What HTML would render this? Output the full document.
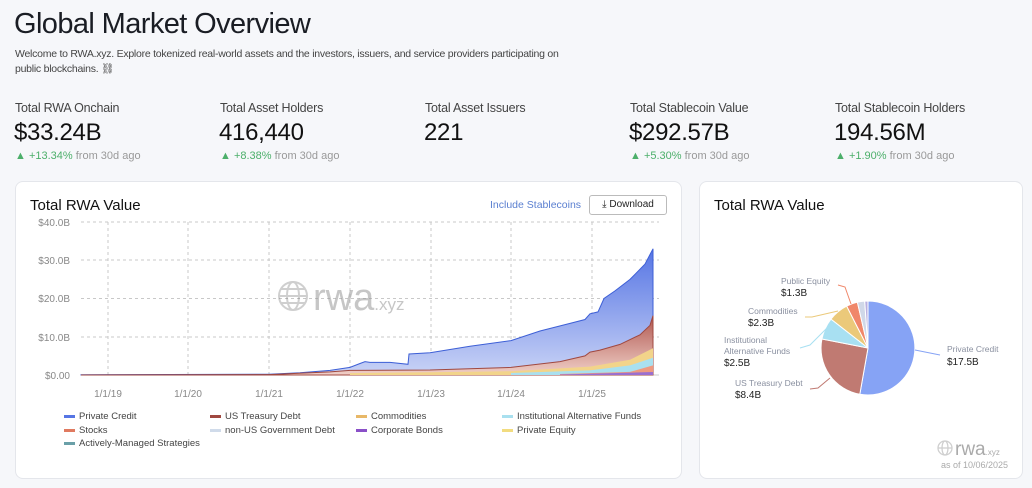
<!DOCTYPE html>
<html><head><meta charset="utf-8"><style>
*{margin:0;padding:0;box-sizing:border-box}
body{width:1032px;height:488px;background:#f6f7fa;font-family:"Liberation Sans",sans-serif;color:#111;position:relative;overflow:hidden}
.a{position:absolute;white-space:nowrap}
.card{position:absolute;background:#fff;border:1px solid #e4e6eb;border-radius:8px}
.lab{font-size:12.5px;color:#444;letter-spacing:-0.2px}
.val{font-size:24px;color:#111;letter-spacing:-0.3px}
.chg{font-size:11px;color:#999}
.chg b{color:#4caf6a;font-weight:normal}
.lg{font-size:9.5px;color:#444;position:absolute}
.lg i{display:inline-block;width:11px;height:3px;margin-right:4px;vertical-align:middle}
</style></head><body>
<div class="a" style="left:14px;top:8px;font-size:29px;color:#1a1d24;letter-spacing:-0.6px">Global Market Overview</div>
<div class="a" style="left:15px;top:47px;font-size:10.5px;color:#444;line-height:15px;letter-spacing:-0.25px">Welcome to RWA.xyz. Explore tokenized real-world assets and the investors, issuers, and service providers participating on<br>public blockchains. ⛓</div>

<div class="a lab" style="left:15px;top:101px">Total RWA Onchain</div>
<div class="a val" style="left:14px;top:119px">$33.24B</div>
<div class="a chg" style="left:15px;top:150px"><b>▲ +13.34%</b> from 30d ago</div>
<div class="a lab" style="left:220px;top:101px">Total Asset Holders</div>
<div class="a val" style="left:219px;top:119px">416,440</div>
<div class="a chg" style="left:220px;top:150px"><b>▲ +8.38%</b> from 30d ago</div>
<div class="a lab" style="left:425px;top:101px">Total Asset Issuers</div>
<div class="a val" style="left:424px;top:119px">221</div>
<div class="a lab" style="left:630px;top:101px">Total Stablecoin Value</div>
<div class="a val" style="left:629px;top:119px">$292.57B</div>
<div class="a chg" style="left:630px;top:150px"><b>▲ +5.30%</b> from 30d ago</div>
<div class="a lab" style="left:835px;top:101px">Total Stablecoin Holders</div>
<div class="a val" style="left:834px;top:119px">194.56M</div>
<div class="a chg" style="left:835px;top:150px"><b>▲ +1.90%</b> from 30d ago</div>

<div class="card" style="left:15px;top:181px;width:667px;height:298px"></div>
<div class="a" style="left:30px;top:197px;font-size:15px;color:#111">Total RWA Value</div>
<div class="a" style="left:490px;top:199px;font-size:10.5px;color:#5a7fd0">Include Stablecoins</div>
<div class="a" style="left:589px;top:195px;width:78px;height:20px;border:1px solid #bbb;border-radius:3px;font-size:10px;line-height:18px;text-align:center;color:#222">⤓ Download</div>

<svg class="a" style="left:0;top:0" width="1032" height="488">
<defs>
<linearGradient id="gb" x1="0" y1="0" x2="0" y2="1"><stop offset="0" stop-color="#5675e4"/><stop offset="1" stop-color="#c9d3f6"/></linearGradient>
<linearGradient id="gr" x1="0" y1="0" x2="0" y2="1"><stop offset="0" stop-color="#b0574f"/><stop offset="1" stop-color="#f0cfc8"/></linearGradient>
</defs>
<g stroke="#c8c8c8" stroke-dasharray="3,3" stroke-width="1">
<line x1="81" y1="222" x2="659" y2="222"/><line x1="81" y1="260" x2="659" y2="260"/><line x1="81" y1="298.5" x2="659" y2="298.5"/><line x1="81" y1="337" x2="659" y2="337"/>
<line x1="108" y1="222" x2="108" y2="375"/><line x1="188" y1="222" x2="188" y2="375"/><line x1="269" y1="222" x2="269" y2="375"/><line x1="350" y1="222" x2="350" y2="375"/><line x1="431" y1="222" x2="431" y2="375"/><line x1="511" y1="222" x2="511" y2="375"/><line x1="592" y1="222" x2="592" y2="375"/>
</g>
<line x1="81" y1="375" x2="659" y2="375" stroke="#ccc"/>
<g font-size="10" fill="#888" text-anchor="end"><text x="70" y="226">$40.0B</text><text x="70" y="264">$30.0B</text><text x="70" y="302">$20.0B</text><text x="70" y="341">$10.0B</text><text x="70" y="379">$0.00</text></g>
<g font-size="10" fill="#888" text-anchor="middle"><text x="108" y="397">1/1/19</text><text x="188" y="397">1/1/20</text><text x="269" y="397">1/1/21</text><text x="350" y="397">1/1/22</text><text x="431" y="397">1/1/23</text><text x="511" y="397">1/1/24</text><text x="592" y="397">1/1/25</text></g>
<g opacity="0.35" fill="none" stroke="#777" stroke-width="2"><circle cx="293" cy="296" r="14"/><ellipse cx="293" cy="296" rx="6" ry="14"/><line x1="279" y1="296" x2="307" y2="296"/><line x1="281" y1="289" x2="305" y2="289"/><line x1="281" y1="303" x2="305" y2="303"/></g>
<text x="313" y="310" font-size="38" fill="#999" opacity="0.55">rwa<tspan font-size="17">.xyz</tspan></text>
<path fill="url(#gb)" stroke="#3d5fd6" stroke-width="1" d="M81,374.8 L269,374.2 300,372.7 330,370.4 350,367.4 360,363.5 365,361.6 370,362.4 390,362.4 408,364.3 409,354 430,352.8 470,346.3 511,340.6 540,331 570,323.4 585,319.5 590,313.8 598,311.9 604,298.5 615,290.9 630,279.4 645,264.1 653,248.8 653,375 81,375Z"/>
<path fill="url(#gr)" stroke="#a04840" stroke-width="1" d="M81,375 L269,374.6 330,371.9 350,370.4 430,370 511,367.4 560,361.6 585,355.9 590,352.1 600,350.1 620,344.4 640,334.8 650,325.3 653,315.7 653,375Z"/>
<path fill="#f2d48a" d="M350,373.1 L430,372.3 511,371.2 590,366.6 630,359.7 653,348.2 653,375 350,375Z"/>
<path fill="#a9e0ef" d="M511,373 L590,370.4 630,365.4 653,357.8 653,375 511,375Z"/>
<path fill="#ee9a80" d="M560,374 L630,371.9 653,365.4 653,375 560,375Z"/>
<path fill="#9a6fd0" d="M560,374.5 L653,372 653,375 560,375Z"/>
</svg>

<div class="lg" style="left:64px;top:411px"><i style="background:#5675e4"></i>Private Credit</div>
<div class="lg" style="left:210px;top:411px"><i style="background:#a04840"></i>US Treasury Debt</div>
<div class="lg" style="left:356px;top:411px"><i style="background:#e8b868"></i>Commodities</div>
<div class="lg" style="left:502px;top:411px"><i style="background:#a9e0ef"></i>Institutional Alternative Funds</div>
<div class="lg" style="left:64px;top:425px"><i style="background:#e07a60"></i>Stocks</div>
<div class="lg" style="left:210px;top:425px"><i style="background:#d0dbea"></i>non-US Government Debt</div>
<div class="lg" style="left:356px;top:425px"><i style="background:#8a50c8"></i>Corporate Bonds</div>
<div class="lg" style="left:502px;top:425px"><i style="background:#f2dc80"></i>Private Equity</div>
<div class="lg" style="left:64px;top:438px"><i style="background:#6aa0a8"></i>Actively-Managed Strategies</div>

<div class="card" style="left:699px;top:181px;width:324px;height:298px"></div>
<div class="a" style="left:714px;top:197px;font-size:15px;color:#111">Total RWA Value</div>
<svg class="a" style="left:0;top:0" width="1032" height="488">
<g stroke="#fff" stroke-width="1">
<path fill="#86a3f5" d="M868,348 L868,301 A47,47 0 1 1 859.8,394.3Z"/>
<path fill="#c07a72" d="M868,348 L859.8,394.3 A47,47 0 0 1 821.9,339Z"/>
<path fill="#a8e0f2" d="M868,348 L821.9,339 A47,47 0 0 1 831,319.1Z"/>
<path fill="#ebc97a" d="M868,348 L831,319.1 A47,47 0 0 1 846.7,306.1Z"/>
<path fill="#f0876a" d="M868,348 L846.7,306.1 A47,47 0 0 1 857.4,302.2Z"/>
<path fill="#d0d8e8" d="M868,348 L857.4,302.2 A47,47 0 0 1 864.7,301.1Z"/>
<path fill="#b8b0e0" d="M868,348 L864.7,301.1 A47,47 0 0 1 868,301Z"/>
</g>
<g fill="none" stroke-width="1">
<polyline stroke="#86a3f5" points="915,350 940,355"/>
<polyline stroke="#c07a72" points="830,378 818,388 810,389"/>
<polyline stroke="#a8e0f2" points="827,328 810,345 800,348"/>
<polyline stroke="#ebc97a" points="838,311 812,317 805,317"/>
<polyline stroke="#f0876a" points="851,304 845,287 838,285"/>
</g>
<g font-size="8.5" fill="#8a90a0"><text x="947" y="352">Private Credit</text><text x="735" y="386">US Treasury Debt</text><text x="724" y="343">Institutional</text><text x="724" y="354">Alternative Funds</text><text x="748" y="314">Commodities</text><text x="781" y="284">Public Equity</text></g>
<g font-size="10" fill="#222"><text x="947" y="365">$17.5B</text><text x="735" y="398">$8.4B</text><text x="724" y="366">$2.5B</text><text x="748" y="326">$2.3B</text><text x="781" y="296">$1.3B</text></g>
<g opacity="0.4" fill="none" stroke="#888" stroke-width="1.3"><circle cx="945" cy="448" r="7"/><ellipse cx="945" cy="448" rx="3" ry="7"/><line x1="938" y1="448" x2="952" y2="448"/></g>
<text x="955" y="455" font-size="19" fill="#aaa">rwa<tspan font-size="8">.xyz</tspan></text>
<text x="1008" y="468" font-size="9" fill="#aaa" text-anchor="end">as of 10/06/2025</text>
</svg>
</body></html>
